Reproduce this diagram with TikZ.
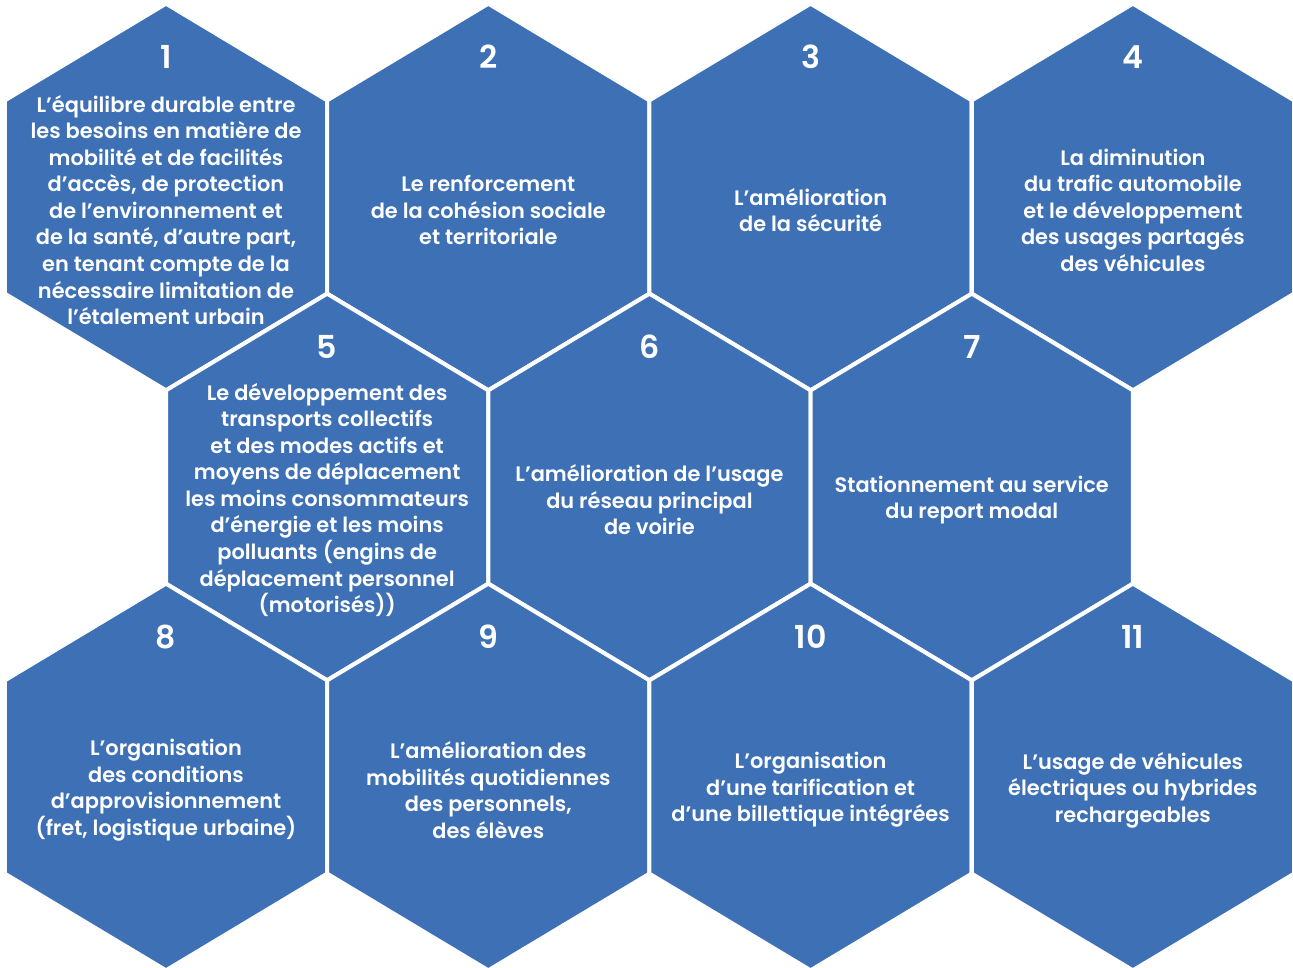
\documentclass[tikz,border=0pt]{standalone}
\usepackage{fontspec}
\setmainfont{Poppins}[BoldFont={* SemiBold}]
\definecolor{hexblue}{RGB}{61,112,181}
\tikzset{
  hexcell/.style={fill=hexblue, draw=white, line width=2.3pt, line join=miter},
  hexnum/.style={text=white, inner sep=0pt, font=\fontsize{18}{20}\selectfont\bfseries},
  hextext/.style={text=white, align=center, inner sep=0pt, font=\fontsize{11.9}{15.1}\selectfont\bfseries},
}
\newcommand{\hexcellat}[5]{%
  \filldraw[hexcell] (#2,#3-193.33) -- (#2+161.15,#3-96.67) -- (#2+161.15,#3+96.67) -- (#2,#3+193.33) -- (#2-161.15,#3+96.67) -- (#2-161.15,#3-96.67) -- cycle;
  \node[hexnum] (#1num) at (#2,#3-140) {#4};
  \node[hextext] (#1txt) at (#2,#3+13) {#5};
}
\begin{document}
\begin{tikzpicture}[x=0.02cm, y=-0.02cm]
\useasboundingbox (0,0) rectangle (1293,967);
\hexcellat{h1}{166}{197}{1}{L’équilibre durable entre\\les besoins en matière de\\mobilité et de facilités\\d’accès, de protection\\de l’environnement et\\de la santé, d’autre part,\\en tenant compte de la\\nécessaire limitation de\\l’étalement urbain}
\hexcellat{h2}{488.3}{197}{2}{Le renforcement\\de la cohésion sociale\\et territoriale}
\hexcellat{h3}{810.6}{197}{3}{L’amélioration\\de la sécurité}
\hexcellat{h4}{1132.9}{197}{4}{La diminution\\du trafic automobile\\et le développement\\des usages partagés\\des véhicules}
\hexcellat{h5}{327.15}{487}{5}{Le développement des\\transports collectifs\\et des modes actifs et\\moyens de déplacement\\les moins consommateurs\\d’énergie et les moins\\polluants (engins de\\déplacement personnel\\(motorisés))}
\hexcellat{h6}{649.45}{487}{6}{L’amélioration de l’usage\\du réseau principal\\de voirie}
\hexcellat{h7}{971.75}{487}{7}{Stationnement au service\\du report modal}
\hexcellat{h8}{166}{777}{8}{L’organisation\\des conditions\\d’approvisionnement\\(fret, logistique urbaine)}
\hexcellat{h9}{488.3}{777}{9}{L’amélioration des\\mobilités quotidiennes\\des personnels,\\des élèves}
\hexcellat{h10}{810.6}{777}{10}{L’organisation\\d’une tarification et\\d’une billettique intégrées}
\hexcellat{h11}{1132.9}{777}{11}{L’usage de véhicules\\électriques ou hybrides\\rechargeables}
\end{tikzpicture}
\end{document}
